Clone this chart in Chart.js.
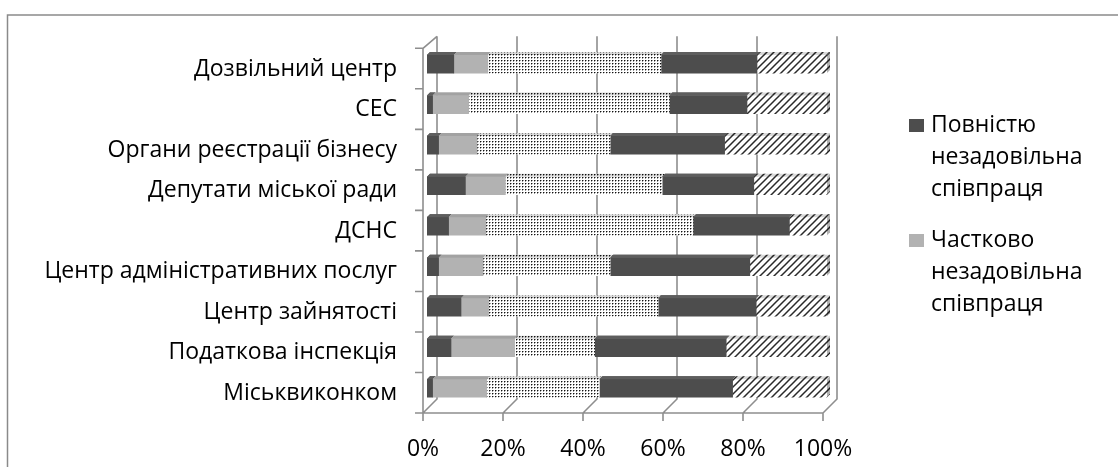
<!DOCTYPE html>
<html>
<head>
<meta charset="utf-8">
<script src="https://cdn.jsdelivr.net/npm/chart.js@4.4.1/dist/chart.umd.min.js"></script>
<style>
  html, body { margin: 0; padding: 0; background: #fff; }
  #wrap { position: relative; width: 1118px; height: 467px; }
</style>
</head>
<body>
<div id="wrap"><canvas id="chart" width="1118" height="467"></canvas></div>
<script>
// data (percent of answers per body)
const categories = [
    "Дозвільний центр",
    "СЕС",
    "Органи реєстрації бізнесу",
    "Депутати міської ради",
    "ДСНС",
    "Центр адміністративних послуг",
    "Центр зайнятості",
    "Податкова інспекція",
    "Міськвиконком"
];
const seriesNames = [
    "Повністю незадовільна співпраця",
    "Частково незадовільна співпраця",
    "Задовільна співпраця",
    "Частково задовільна співпраця",
    "Повністю задовільна співпраця"
];
const fullyBad   = [6.7, 1.4, 2.9, 9.6, 5.4, 2.9, 8.5, 6.0, 1.4];
const partlyBad  = [8.5, 9.0, 9.6, 10.0, 9.3, 11.1, 6.9, 15.9, 13.5];
const neutral    = [43.3, 50.2, 33.3, 39.2, 51.8, 31.8, 42.4, 20.0, 28.2];
const partlyGood = [24.0, 19.4, 28.6, 22.9, 24.1, 34.9, 24.5, 32.9, 33.3];
const fullyGood  = [17.5, 20.0, 25.6, 18.3, 9.4, 19.3, 17.7, 25.2, 23.6];
const tickValues = [0, 20, 40, 60, 80, 100];

const FONT = "'Open Sans', 'Noto Sans', sans-serif";
const FSIZE = 23;

// fill patterns like the old excel ones
function dotPattern() {
    const c = document.createElement("canvas");
    c.width = 3; c.height = 3;
    const g = c.getContext("2d");
    g.fillStyle = "#fff";
    g.fillRect(0, 0, 3, 3);
    g.fillStyle = "#111";
    g.fillRect(0, 0, 1, 1);
    g.fillStyle = "#9a9a9a";
    g.fillRect(1, 0, 1, 1);
    g.fillRect(0, 1, 1, 1);
    return g.createPattern(c, "repeat");
}
function hatchPattern() {
    const c = document.createElement("canvas");
    c.width = 7; c.height = 7;
    const g = c.getContext("2d");
    g.fillStyle = "#fff";
    g.fillRect(0, 0, 7, 7);
    g.strokeStyle = "#2a2a2a";
    g.lineWidth = 1.5;
    g.beginPath();
    g.moveTo(-1, 8); g.lineTo(8, -1);
    g.moveTo(-1, 1); g.lineTo(1, -1);
    g.moveTo(6, 8); g.lineTo(8, 6);
    g.stroke();
    return g.createPattern(c, "repeat");
}

const fills = ["#4d4d4d", "#b2b2b2", dotPattern(), "#4d4d4d", hatchPattern()];
const tops = ["#5e5e5e", "#a2a2a2", null, "#5e5e5e", null];
const allData = [fullyBad, partlyBad, neutral, partlyGood, fullyGood];

// 3d-ish offsets, relative to the bar plane
const DEPTH = 3;          // bar top face
const FRONT = [-4, 4.5];  // front axis plane
const BACK = [10, -9.5];  // back wall plane
const LINE = "#8e8e8e";

const framePlugin = {
    id: "frame",
    beforeDraw(chart) {
        const ctx = chart.ctx;
        ctx.save();
        ctx.fillStyle = "#fff";
        ctx.fillRect(0, 0, chart.width, chart.height);
        ctx.strokeStyle = "#8a8a8a";
        ctx.lineWidth = 1.5;
        ctx.strokeRect(7.5, 15, 1300, 600);
        ctx.restore();
    }
};

const wallPlugin = {
    id: "walls",
    beforeDatasetsDraw(chart) {
        const ctx = chart.ctx;
        const a = chart.chartArea;
        const xs = chart.scales.x;
        const ys = chart.scales.y;
        const backTop = a.top - 7.5, backBot = a.bottom + BACK[1];
        const frontTop = a.top + FRONT[1], frontBot = a.bottom + FRONT[1];
        ctx.save();
        ctx.strokeStyle = LINE;
        ctx.lineWidth = 1.6;
        ctx.beginPath();
        tickValues.forEach(v => {
            const px = xs.getPixelForValue(v);
            const bx = px + BACK[0], fx = px + FRONT[0];
            ctx.moveTo(bx, backTop);
            ctx.lineTo(bx, backBot);
            ctx.lineTo(fx, frontBot);
            ctx.lineTo(fx, frontBot + 8);
        });
        // left side wall
        const l = xs.getPixelForValue(0);
        ctx.moveTo(l + FRONT[0], frontBot);
        ctx.lineTo(l + FRONT[0], frontTop);
        ctx.lineTo(l + BACK[0], backTop);
        // floor front edge
        ctx.moveTo(l + FRONT[0] - 8, frontBot);
        ctx.lineTo(xs.getPixelForValue(100) + FRONT[0], frontBot);
        // category ticks
        const step = (a.bottom - a.top) / categories.length;
        for (let i = 0; i <= categories.length; i++) {
            const ty = ys.top + FRONT[1] + i * step;
            ctx.moveTo(l + FRONT[0] - 8, ty);
            ctx.lineTo(l + FRONT[0], ty);
        }
        ctx.stroke();
        ctx.restore();
    },
    afterDatasetsDraw(chart) {
        const ctx = chart.ctx;
        ctx.save();
        chart.data.datasets.forEach((ds, di) => {
            const meta = chart.getDatasetMeta(di);
            meta.data.forEach(bar => {
                const top = bar.y - bar.height / 2;
                const x0 = Math.min(bar.base, bar.x), x1 = Math.max(bar.base, bar.x);
                ctx.beginPath();
                ctx.moveTo(x0, top);
                ctx.lineTo(x0 + DEPTH, top - DEPTH);
                ctx.lineTo(x1 + DEPTH, top - DEPTH);
                ctx.lineTo(x1, top);
                ctx.closePath();
                ctx.fillStyle = fills[di];
                ctx.fill();
                ctx.fillStyle = tops[di] || "rgba(0,0,0,0.15)";
                ctx.fill();
                if (di === chart.data.datasets.length - 1) {
                    ctx.beginPath();
                    ctx.moveTo(x1, top);
                    ctx.lineTo(x1 + DEPTH, top - DEPTH);
                    ctx.lineTo(x1 + DEPTH, top + bar.height - DEPTH);
                    ctx.lineTo(x1, top + bar.height);
                    ctx.closePath();
                    ctx.fillStyle = fills[di];
                    ctx.fill();
                    ctx.fillStyle = "rgba(0,0,0,0.3)";
                    ctx.fill();
                }
            });
        });
        ctx.restore();
    }
};

// excel cut the legend off after two entries, so only those are drawn
const legendPlugin = {
    id: "sideLegend",
    afterDraw(chart) {
        const ctx = chart.ctx;
        ctx.save();
        ctx.font = FSIZE + "px " + FONT;
        ctx.textBaseline = "alphabetic";
        let y = 132;
        chart.data.datasets.slice(0, 2).forEach(ds => {
            ctx.fillStyle = ds.backgroundColor;
            ctx.fillRect(909, y - 13, 15, 13);
            ctx.fillStyle = "#000";
            ds.label.split(" ").forEach((word, i) => {
                ctx.fillText(word, 931, y + i * 32);
            });
            y += 3 * 32 + 19;
        });
        ctx.restore();
    }
};

new Chart(document.getElementById("chart"), {
    type: "bar",
    data: {
        labels: categories,
        datasets: allData.map((d, i) => ({
            label: seriesNames[i],
            data: d,
            backgroundColor: fills[i],
            borderWidth: 0,
            barThickness: 18
        }))
    },
    options: {
        indexAxis: "y",
        responsive: false,
        animation: false,
        layout: { padding: { top: 40.5, right: 291, left: 0, bottom: 0 } },
        plugins: {
            legend: { display: false },
            tooltip: { enabled: false }
        },
        scales: {
            x: {
                stacked: true,
                min: 0,
                max: 100,
                afterFit(s) { s.height = 58.5; },
                afterBuildTicks(s) { s.ticks = tickValues.map(v => ({ value: v })); },
                grid: { display: false, drawTicks: false },
                border: { display: false },
                ticks: {
                    callback: v => v + "%",
                    color: "#000",
                    font: { family: FONT, size: FSIZE },
                    padding: 27,
                    labelOffset: -4,
                    maxRotation: 0,
                    autoSkip: false
                }
            },
            y: {
                stacked: true,
                afterFit(s) { s.width = 427; },
                grid: { display: false, drawTicks: false },
                border: { display: false },
                ticks: {
                    color: "#000",
                    font: { family: FONT, size: FSIZE },
                    padding: 30,
                    labelOffset: 5,
                    autoSkip: false
                }
            }
        }
    },
    plugins: [framePlugin, wallPlugin, legendPlugin]
});
</script>
</body>
</html>
